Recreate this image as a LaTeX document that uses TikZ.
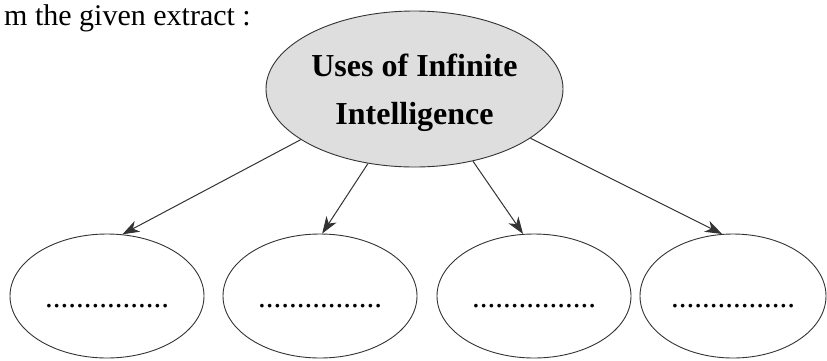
\documentclass[tikz,border=0pt]{standalone}
\usepackage{fontspec}
\setmainfont{Liberation Serif}[Ligatures=NoCommon]
\usetikzlibrary{arrows.meta,shapes.geometric}
\tikzset{
  heading/.style={
    % The shape:
    ellipse,
    % The size:
    minimum width=297pt, minimum height=156pt, inner sep=0pt,
    % The border:
    draw=black!80, line width=0.9pt,
    % The filling:
    fill=black!13,
    font=\fontsize{32}{48}\selectfont\bfseries, align=center, text depth=0pt},
  blank/.style={
    % The shape:
    ellipse,
    minimum width=194pt, minimum height=124pt, inner sep=0pt,
    % The rest
    draw=black!80, line width=0.9pt,
    font=\fontsize{31}{36}\selectfont, text height=22pt, text depth=0pt}
}

\begin{document}
\begin{tikzpicture}[x=1pt,y=-1pt,>={Stealth[length=17pt,width=12pt,inset=5pt]},
                    tip/.style={->,draw=black!80,line width=1pt}]
  \useasboundingbox (0,0) rectangle (827,360);

  \node (extract) [anchor=base west,inner sep=0pt,font=\fontsize{30}{36}\selectfont] at (4,25) {m the given extract :};

  \node (uses) [heading] at (414.5,89) {Uses of Infinite\\Intelligence};

  \node (use1) [blank] at (107,296) {................};
  \node (use2) [blank] at (320,296) {................};
  \node (use3) [blank] at (534,296) {................};
  \node (use4) [blank,minimum width=186pt] at (733,296) {................};

  \draw [tip] (uses.204.6) -- (use1.76);
  \draw [tip] (uses.238.5) -- (use2.88);
  \draw [tip] (uses.309.4) -- (use3.100);
  \draw [tip] (uses.337.6) -- (use4.100);
\end{tikzpicture}
\end{document}
